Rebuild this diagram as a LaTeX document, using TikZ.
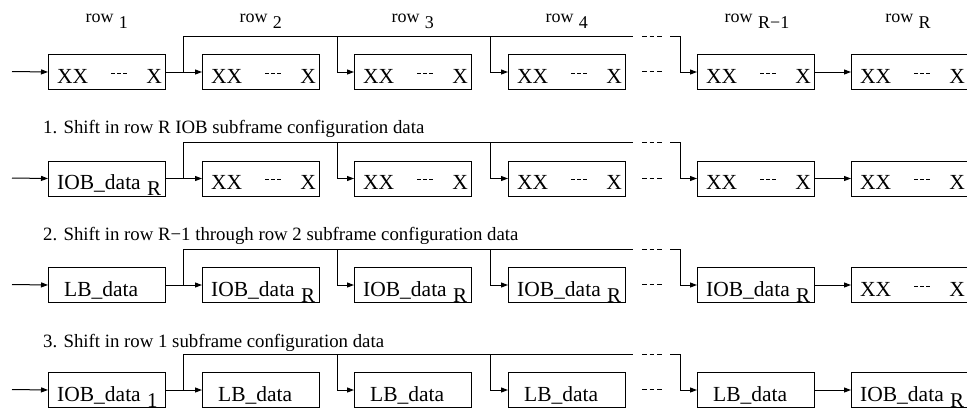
\documentclass[tikz,border=0pt]{standalone}
\usepackage{fontspec}
\setmainfont{Liberation Serif}
\usetikzlibrary{calc,arrows.meta}
\tikzset{
  cell/.style={draw, line width=1pt, minimum width=117pt, minimum height=35pt, inner sep=0pt, anchor=north west},
  link/.style={line width=1pt, -{Triangle[length=7pt,width=5pt]}},
  wire/.style={line width=1pt},
  gap/.style={line width=1pt, dash pattern=on 4.7pt off 3pt},
  gapsmall/.style={line width=1pt, dash pattern=on 3.5pt off 2.5pt},
  boxtext/.style={inner sep=0pt, font=\fontsize{21.5}{24}\selectfont},
  subtext/.style={inner sep=0pt, font=\fontsize{21}{24}\selectfont},
  caption/.style={inner sep=0pt, anchor=base west, font=\fontsize{18.8}{22}\selectfont},
  rowlabel/.style={inner sep=0pt, anchor=base, font=\fontsize{18}{22}\selectfont},
}
% contents of a register cell
\newcommand\cellXX[1]{%
  \node[boxtext, anchor=base west] (#1-a) at ($(#1.south west)+(9,-7)$) {XX};
  \node[boxtext, anchor=base east] (#1-b) at ($(#1.south east)+(-4,-7)$) {X};
  \coordinate (#1-p) at ($(#1.south west)+(63,-17)$);
  \coordinate (#1-q) at ($(#1.south west)+(79,-17)$);
  \draw[gapsmall] (#1-p) -- (#1-q);}
\newcommand\cellIOB[2]{%
  \node[boxtext, anchor=base west] (#1-a) at ($(#1.south west)+(9,-7)$) {IOB\_data};
  \node[subtext, anchor=base west] (#1-b) at ($(#1.south west)+(99,-1)$) {#2};}
\newcommand\cellLB[1]{%
  \node[boxtext, anchor=base west] (#1-a) at ($(#1.south west)+(16,-7)$) {LB\_data};}
\newcommand\rowsub[1]{row\hspace{0.3em}\raisebox{-6pt}{#1}}

\begin{document}
\begin{tikzpicture}[x=1pt, y=-1pt]
\useasboundingbox (0,0) rectangle (967,410);
\clip (0,0) rectangle (967,410);

% four shift stages, given by the top edge of their cells
\foreach \rw/\ty in {1/54, 2/160.5, 3/267, 4/372}{
  \foreach \c/\x in {1/48,2/202,3/354,4/508,5/697,6/851}
    \node[cell] (b\rw-\c) at (\x,\ty) {};
  \coordinate (in\rw) at (12,\ty+17.5);
  \coordinate (j\rw) at (183,\ty+17.5);
  \coordinate (e\rw) at (633,\ty-18);
  \coordinate (d\rw-3) at (337,\ty-18);
  \coordinate (d\rw-4) at (490,\ty-18);
  \coordinate (s\rw) at (670,\ty-18);
  \coordinate (k\rw) at (680,\ty-18);
  \coordinate (g\rw-1) at (642,\ty-18);
  \coordinate (g\rw-2) at (662,\ty-18);
  \coordinate (h\rw-1) at (642,\ty+17.5);
  \coordinate (h\rw-2) at (662,\ty+17.5);
  \draw[link] (in\rw) -- (b\rw-1.west);
  \draw[link] (b\rw-1.east) -- (b\rw-2.west);
  \draw[wire] (j\rw) |- (e\rw);
  \draw[link] (d\rw-3) |- (b\rw-3.west);
  \draw[link] (d\rw-4) |- (b\rw-4.west);
  \draw[gap] (g\rw-1) -- (g\rw-2);
  \draw[gap] (h\rw-1) -- (h\rw-2);
  \draw[link] (s\rw) -- (k\rw) |- (b\rw-5.west);
  \draw[link] (b\rw-5) -- (b\rw-6);
}

% row labels
\node[rowlabel] (l1) at (106.75,22) {\rowsub{1}};
\node[rowlabel] (l2) at (260.75,22) {\rowsub{2}};
\node[rowlabel] (l3) at (412.75,22) {\rowsub{3}};
\node[rowlabel] (l4) at (566.75,22) {\rowsub{4}};
\node[rowlabel] (l5) at (757,22) {\rowsub{R−1}};
\node[rowlabel] (l6) at (908,22) {\rowsub{R}};

% stage captions
\node[caption] (cap1) at (43,133.5) {1. Shift in row R IOB subframe configuration data};
\node[caption] (cap2) at (43,240) {2. Shift in row R−1 through row 2 subframe configuration data};
\node[caption] (cap3) at (43,347) {3. Shift in row 1 subframe configuration data};

% initial state
\cellXX{b1-1}\cellXX{b1-2}\cellXX{b1-3}\cellXX{b1-4}\cellXX{b1-5}\cellXX{b1-6}
% stage 1
\cellIOB{b2-1}{R}\cellXX{b2-2}\cellXX{b2-3}\cellXX{b2-4}\cellXX{b2-5}\cellXX{b2-6}
% stage 2
\cellLB{b3-1}\cellIOB{b3-2}{R}\cellIOB{b3-3}{R}\cellIOB{b3-4}{R}\cellIOB{b3-5}{R}\cellXX{b3-6}
% stage 3
\cellIOB{b4-1}{1}\cellLB{b4-2}\cellLB{b4-3}\cellLB{b4-4}\cellLB{b4-5}\cellIOB{b4-6}{R}
\end{tikzpicture}
\end{document}
